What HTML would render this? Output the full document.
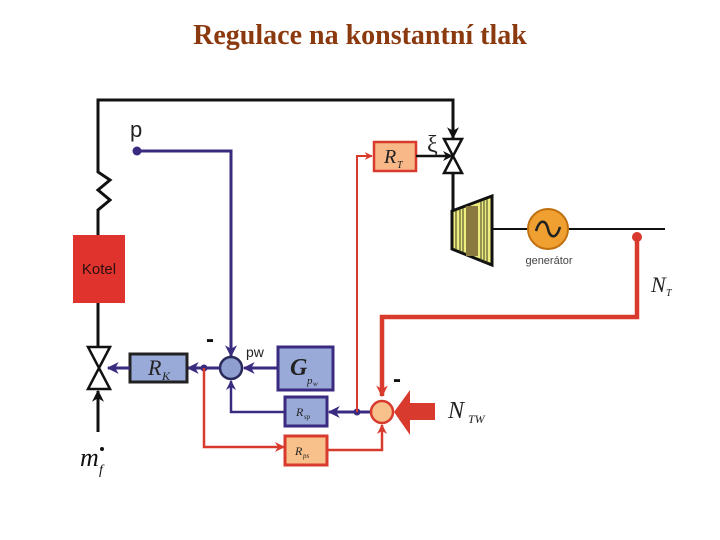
<!DOCTYPE html>
<html><head><meta charset="utf-8"><style>
body{margin:0;background:#fff;width:720px;height:540px;overflow:hidden}
svg{display:block}
</style></head><body>
<svg width="720" height="540" viewBox="0 0 720 540" xmlns="http://www.w3.org/2000/svg">
<defs>
<marker id="ab" viewBox="0 0 10 10" refX="9" refY="5" markerWidth="4" markerHeight="4" orient="auto"><path d="M0,0 L10,5 L0,10 L3,5z" fill="#111"/></marker>
<marker id="ap" viewBox="0 0 10 10" refX="9" refY="5" markerWidth="4" markerHeight="4" orient="auto"><path d="M0,0 L10,5 L0,10 L3,5z" fill="#3a2a80"/></marker>
<marker id="ar" viewBox="0 0 10 10" refX="9" refY="5" markerWidth="4" markerHeight="4" orient="auto"><path d="M0,0 L10,5 L0,10 L3,5z" fill="#d83a2e"/></marker>
<marker id="arb" viewBox="0 0 10 10" refX="9" refY="5" markerWidth="2.6" markerHeight="2.6" orient="auto"><path d="M0,0 L10,5 L0,10 L3,5z" fill="#d83a2e"/></marker>
</defs>
<text x="360" y="44" text-anchor="middle" font-family="Liberation Serif, serif" font-weight="bold" font-size="28" fill="#8b3a10">Regulace na konstantní tlak</text>

<polyline points="98,235 98,210 110,200 98,190 110,180 98,172 98,100 453,100 453,138" fill="none" stroke="#111" stroke-width="3" marker-end="url(#ab)"/>
<line x1="98" y1="303" x2="98" y2="347" stroke="#111" stroke-width="3"/>
<rect x="73" y="235" width="52" height="68" fill="#e0332d"/>
<text x="99" y="274" text-anchor="middle" font-family="Liberation Sans, sans-serif" font-size="15" fill="#2a1010">Kotel</text>
<path d="M88,347 L110,347 L88,389 L110,389 Z" fill="#fff" stroke="#111" stroke-width="2.5"/>
<line x1="98" y1="432" x2="98" y2="391" stroke="#111" stroke-width="3" marker-end="url(#ab)"/>
<text x="80" y="466" font-family="Liberation Serif, serif" font-style="italic" font-size="26" fill="#111">m</text>
<text x="99" y="474" font-family="Liberation Serif, serif" font-style="italic" font-size="14" fill="#111">f</text>
<circle cx="102" cy="449" r="2" fill="#111"/>

<text x="130" y="137" font-family="Liberation Sans, sans-serif" font-size="22" fill="#222">p</text>
<circle cx="137" cy="151" r="4.5" fill="#3a2a80"/>
<polyline points="137,151 231,151 231,356" fill="none" stroke="#3a2a80" stroke-width="3" marker-end="url(#ap)"/>
<text x="206" y="347" font-family="Liberation Sans, sans-serif" font-weight="bold" font-size="24" fill="#111">-</text>
<circle cx="231" cy="368" r="11" fill="#8fa0d0" stroke="#2a2a5a" stroke-width="2.5"/>
<text x="246" y="357" font-family="Liberation Sans, sans-serif" font-size="14" fill="#222">pw</text>
<rect x="278" y="347" width="55" height="43" fill="#9aaad8" stroke="#3a2a80" stroke-width="3"/>
<text x="290" y="375" font-family="Liberation Serif, serif" font-style="italic" font-weight="bold" font-size="24" fill="#222">G</text>
<text x="307" y="384" font-family="Liberation Serif, serif" font-style="italic" font-size="11" fill="#222">p</text>
<text x="313" y="386" font-family="Liberation Serif, serif" font-style="italic" font-size="7" fill="#222">w</text>
<line x1="278" y1="368" x2="244" y2="368" stroke="#3a2a80" stroke-width="3" marker-end="url(#ap)"/>
<line x1="220" y1="368" x2="188" y2="368" stroke="#3a2a80" stroke-width="3" marker-end="url(#ap)"/>
<circle cx="204" cy="368" r="3.5" fill="#3a2a80"/>
<rect x="130" y="354" width="57" height="28" fill="#9aaad8" stroke="#222" stroke-width="3"/>
<text x="148" y="375" font-family="Liberation Serif, serif" font-style="italic" font-size="22" fill="#222">R</text>
<text x="162" y="380" font-family="Liberation Serif, serif" font-style="italic" font-size="12" fill="#222">K</text>
<line x1="130" y1="368" x2="108" y2="368" stroke="#3a2a80" stroke-width="3" marker-end="url(#ap)"/>

<rect x="285" y="397" width="42" height="29" fill="#9aaad8" stroke="#3a2a80" stroke-width="3"/>
<text x="296" y="416" font-family="Liberation Serif, serif" font-style="italic" font-size="12" fill="#222">R</text>
<text x="304" y="419" font-family="Liberation Serif, serif" font-style="italic" font-size="7" fill="#222">sp</text>
<line x1="357" y1="412" x2="329" y2="412" stroke="#3a2a80" stroke-width="3" marker-end="url(#ap)"/>
<circle cx="357" cy="412" r="3.5" fill="#3a2a80"/>
<line x1="371" y1="412" x2="357" y2="412" stroke="#3a2a80" stroke-width="3"/>
<polyline points="285,412 231,412 231,381" fill="none" stroke="#3a2a80" stroke-width="2.5" marker-end="url(#ap)"/>

<polyline points="204,368 204,447 284,447" fill="none" stroke="#d83a2e" stroke-width="2.5" marker-end="url(#ar)"/>
<rect x="285" y="436" width="42" height="29" fill="#f8c08a" stroke="#d83a2e" stroke-width="3"/>
<text x="295" y="455" font-family="Liberation Serif, serif" font-style="italic" font-size="12" fill="#222">R</text>
<text x="303" y="458" font-family="Liberation Serif, serif" font-style="italic" font-size="7" fill="#222">ps</text>
<polyline points="327,450 382,450 382,425" fill="none" stroke="#d83a2e" stroke-width="2.5" marker-end="url(#ar)"/>

<polyline points="357,412 357,156 372,156" fill="none" stroke="#d83a2e" stroke-width="2" marker-end="url(#ar)"/>
<rect x="374" y="142" width="42" height="29" fill="#f8b888" stroke="#d83a2e" stroke-width="2.5"/>
<text x="384" y="163" font-family="Liberation Serif, serif" font-style="italic" font-size="20" fill="#222">R</text>
<text x="397" y="168" font-family="Liberation Serif, serif" font-style="italic" font-size="10" fill="#222">T</text>
<line x1="416" y1="156" x2="452" y2="156" stroke="#111" stroke-width="2.5" marker-end="url(#ab)"/>
<text x="427" y="152" font-family="Liberation Serif, serif" font-size="24" fill="#222">ξ</text>
<path d="M444,139 L462,139 L444,173 L462,173 Z" fill="#fff" stroke="#111" stroke-width="2.5"/>
<line x1="453" y1="173" x2="453" y2="212" stroke="#111" stroke-width="3"/>

<path d="M452,211 L492,196 L492,265 L452,249 Z" fill="#eeee80" stroke="#111" stroke-width="3"/>
<rect x="466" y="206" width="12" height="50" fill="#8a7a40"/>
<g stroke="#3a3a20" stroke-width="1">
<line x1="456" y1="210" x2="456" y2="250"/><line x1="460" y1="209" x2="460" y2="252"/><line x1="463" y1="208" x2="463" y2="253"/>
<line x1="481" y1="201" x2="481" y2="261"/><line x1="484" y1="200" x2="484" y2="262"/><line x1="487" y1="199" x2="487" y2="263"/>
</g>
<line x1="492" y1="229" x2="665" y2="229" stroke="#111" stroke-width="2"/>
<circle cx="548" cy="229" r="20" fill="#f0a030" stroke="#c07010" stroke-width="2"/>
<path d="M536,231 C540,218 546,220 548,229 C550,238 556,240 560,227" fill="none" stroke="#222" stroke-width="2.5"/>
<text x="549" y="264" text-anchor="middle" font-family="Liberation Sans, sans-serif" font-size="11" fill="#444">generátor</text>
<circle cx="637" cy="237" r="5" fill="#d83a2e"/>
<polyline points="637,237 637,317 382,317 382,396" fill="none" stroke="#d83a2e" stroke-width="4.5" marker-end="url(#arb)"/>
<text x="651" y="292" font-family="Liberation Serif, serif" font-style="italic" font-size="22" fill="#222">N</text>
<text x="666" y="296" font-family="Liberation Serif, serif" font-style="italic" font-size="10" fill="#222">T</text>

<text x="393" y="387" font-family="Liberation Sans, sans-serif" font-weight="bold" font-size="24" fill="#111">-</text>
<circle cx="382" cy="412" r="11" fill="#f8c08a" stroke="#d83a2e" stroke-width="2.5"/>
<path d="M435,403 L410,403 L410,390 L394,412 L410,435 L410,420 L435,420 Z" fill="#d83a2e"/>
<text x="448" y="418" font-family="Liberation Serif, serif" font-style="italic" font-size="24" fill="#222">N</text>
<text x="468" y="423" font-family="Liberation Serif, serif" font-style="italic" font-size="12" fill="#222">TW</text>
</svg>
</body></html>
